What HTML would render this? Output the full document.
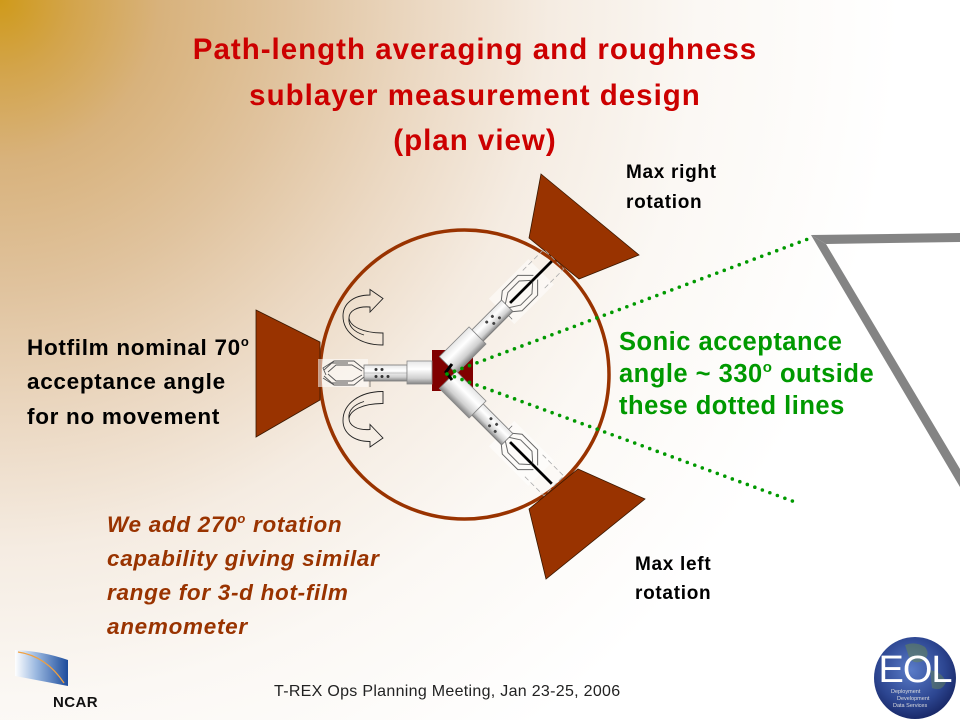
<!DOCTYPE html>
<html>
<head>
<meta charset="utf-8">
<style>
  html,body{margin:0;padding:0;}
  body{width:960px;height:720px;overflow:hidden;
    background: radial-gradient(circle at 0px 0px, #cf9a1a 0px, #d3a44a 70px, #d8b27c 160px, #e0c39e 290px, #ebd8c2 420px, #f5ece2 550px, #fbf8f4 700px, #ffffff 900px);
  }
  svg{display:block;}
  text{font-family:"Liberation Sans", Arial, sans-serif;}
</style>
</head>
<body>
<svg width="960" height="720" viewBox="0 0 960 720" xmlns="http://www.w3.org/2000/svg">
  <defs>
    <linearGradient id="cyl" x1="0" y1="0" x2="0" y2="1">
      <stop offset="0" stop-color="#e6e6e6"/>
      <stop offset="0.35" stop-color="#ffffff"/>
      <stop offset="0.75" stop-color="#d0d0d0"/>
      <stop offset="1" stop-color="#858585"/>
    </linearGradient>
    <linearGradient id="ncar" x1="0" y1="0" x2="1" y2="0">
      <stop offset="0" stop-color="#ffffff"/>
      <stop offset="0.4" stop-color="#9ab8e0"/>
      <stop offset="1" stop-color="#1d4c9c"/>
    </linearGradient>
    <radialGradient id="globe" cx="0.45" cy="0.4" r="0.6">
      <stop offset="0" stop-color="#5a7cc8"/>
      <stop offset="0.7" stop-color="#2c4590"/>
      <stop offset="1" stop-color="#1a2a6a"/>
    </radialGradient>
  </defs>

  <!-- Title -->
  <g font-weight="bold" font-size="29.5" fill="#cc0000" text-anchor="middle" letter-spacing="1">
    <text x="475" y="59">Path-length averaging and roughness</text>
    <text x="475" y="105">sublayer measurement design</text>
    <text x="475" y="150">(plan view)</text>
  </g>

  <!-- Gray outline shape on right -->
  <polygon points="811,235 960,233 960,242 826,244" fill="#848484"/>
  <polygon points="811,235 826,244 960,469 960,487" fill="#848484"/>

  <!-- Circle -->
  <circle cx="464.5" cy="374.5" r="144.5" fill="none" stroke="#993300" stroke-width="3.5"/>

  <!-- Trapezoids -->
  <g fill="#993300" stroke="#3a1800" stroke-width="0.8">
    <polygon points="256,310 320,342 320,400 256,437"/>
    <polygon points="541,174 639,255 579,279 529,238"/>
    <polygon points="578,469 645,499 546,579 529,509"/>
  </g>

  <!-- Curved arrows -->
  <path d="M383,333 C362,333 350,326 349,318 C349,311 357,306 370,307 L370,312 L383,298.5 L370,289.5 L370,295 C353,295 343,304 343,316 C343,333 360,345 383,345 Z M349,318 C348,326 354,332 364,335" fill="none" stroke="#222" stroke-width="0.9"/>
  <g transform="matrix(1,0,0,-1,0,736.5)">
    <path d="M383,333 C362,333 350,326 349,318 C349,311 357,306 370,307 L370,312 L383,298.5 L370,289.5 L370,295 C353,295 343,304 343,316 C343,333 360,345 383,345 Z M349,318 C348,326 354,332 364,335" fill="none" stroke="#222" stroke-width="0.9"/>
  </g>

  <!-- Center square -->
  <rect x="432" y="350" width="41" height="41" fill="#800000"/>

  <!-- Left probe -->
  <g transform="translate(432,373) scale(-1,1)">
    <rect x="64" y="-14" width="50" height="28" fill="#fff" opacity="0.55"/>
    <path d="M68,-4 L78,-12 L98,-12 L108,-3 M68,4 L78,12 L98,12 L108,3 M70,-2 L80,-8 L96,-8 L104,-1 M70,2 L80,8 L96,8 L104,1 M98,-12 L109,-5 L106,2 M98,12 L109,5 M84,-10 L100,-10 M84,10 L100,10" fill="none" stroke="#555" stroke-width="0.9"/>
    <rect x="25" y="-8" width="43" height="16" fill="url(#cyl)" stroke="#777" stroke-width="0.8"/>
    <line x1="25" y1="0" x2="68" y2="0" stroke="#999" stroke-width="0.6"/>
    <circle cx="50" cy="-3.5" r="1.5" fill="#333"/><circle cx="56" cy="-3.5" r="1.5" fill="#333"/>
    <circle cx="44" cy="3.5" r="1.5" fill="#333"/><circle cx="50" cy="3.5" r="1.5" fill="#333"/><circle cx="56" cy="3.5" r="1.5" fill="#333"/>
    <line x1="62" y1="8" x2="62" y2="14" stroke="#555" stroke-width="0.7"/>
    <rect x="0" y="-12" width="25" height="23" fill="url(#cyl)" stroke="#888" stroke-width="0.8"/>
  </g>

  <!-- Upper-right probe -->
  <g transform="translate(445,368) rotate(-45)">
    <rect x="80" y="-18" width="56" height="36" fill="#fff" opacity="0.5"/>
    <path d="M124,-14 L154,-14 L154,14 L124,14" fill="none" stroke="#aaa" stroke-width="0.8" stroke-dasharray="5 3"/>
    <line x1="92" y1="0" x2="151" y2="0" stroke="#000" stroke-width="2.8"/>
    <path d="M84,-5 L95,-14 L117,-14 L128,-3 M84,5 L95,14 L117,14 L128,3 M87,-2 L98,-9 L114,-9 L123,-1 M87,2 L98,9 L114,9 L123,1" fill="none" stroke="#666" stroke-width="1"/>
    <rect x="46" y="-8" width="42" height="16" fill="url(#cyl)" stroke="#777" stroke-width="0.8"/>
    <circle cx="62" cy="-3" r="1.5" fill="#444"/><circle cx="70" cy="-3" r="1.5" fill="#444"/><circle cx="66" cy="3" r="1.5" fill="#444"/><circle cx="74" cy="3" r="1.5" fill="#444"/>
    <line x1="82" y1="8" x2="82" y2="13" stroke="#666" stroke-width="0.7"/>
    <rect x="4" y="-12" width="42" height="24" fill="url(#cyl)" stroke="#888" stroke-width="0.8"/>
  </g>

  <!-- Lower-right probe -->
  <g transform="translate(445,377) rotate(45)">
    <rect x="80" y="-18" width="56" height="36" fill="#fff" opacity="0.5"/>
    <path d="M124,-14 L154,-14 L154,14 L124,14" fill="none" stroke="#aaa" stroke-width="0.8" stroke-dasharray="5 3"/>
    <line x1="92" y1="0" x2="151" y2="0" stroke="#000" stroke-width="2.8"/>
    <path d="M84,-5 L95,-14 L117,-14 L128,-3 M84,5 L95,14 L117,14 L128,3 M87,-2 L98,-9 L114,-9 L123,-1 M87,2 L98,9 L114,9 L123,1" fill="none" stroke="#666" stroke-width="1"/>
    <rect x="46" y="-8" width="42" height="16" fill="url(#cyl)" stroke="#777" stroke-width="0.8"/>
    <circle cx="62" cy="-3" r="1.5" fill="#444"/><circle cx="70" cy="-3" r="1.5" fill="#444"/><circle cx="66" cy="3" r="1.5" fill="#444"/><circle cx="74" cy="3" r="1.5" fill="#444"/>
    <line x1="82" y1="-8" x2="82" y2="-13" stroke="#666" stroke-width="0.7"/>
    <rect x="4" y="-12" width="42" height="24" fill="url(#cyl)" stroke="#888" stroke-width="0.8"/>
  </g>

  <!-- black joint -->
  <path d="M452,364 L446,372 L452,380" fill="none" stroke="#000" stroke-width="3"/>

  <!-- Green dotted lines -->
  <g stroke="#009900" stroke-width="3.6" stroke-linecap="round" stroke-dasharray="0 8" fill="none">
    <line x1="447" y1="374" x2="808" y2="239"/>
    <line x1="447" y1="374" x2="795" y2="502"/>
  </g>

  <!-- Labels -->
  <g font-weight="bold" font-size="19" fill="#000" letter-spacing="0.7">
    <text x="626" y="178">Max right</text>
    <text x="626" y="208">rotation</text>
    <text x="635" y="570">Max left</text>
    <text x="635" y="599">rotation</text>
  </g>

  <g font-weight="bold" font-size="22.5" fill="#000" letter-spacing="0.7">
    <text x="27" y="355">Hotfilm nominal 70<tspan font-size="13" dy="-9">o</tspan></text>
    <text x="27" y="389">acceptance angle</text>
    <text x="27" y="424">for no movement</text>
  </g>

  <g font-weight="bold" font-size="25.5" fill="#009900" letter-spacing="0.5">
    <text x="619" y="350">Sonic acceptance</text>
    <text x="619" y="382">angle ~ 330<tspan font-size="15" dy="-10">o</tspan><tspan dy="10"> outside</tspan></text>
    <text x="619" y="414">these dotted lines</text>
  </g>

  <g font-weight="bold" font-style="italic" font-size="22.5" fill="#993300" letter-spacing="0.7">
    <text x="107" y="532">We add 270<tspan font-size="13" dy="-9">o</tspan><tspan dy="9"> rotation</tspan></text>
    <text x="107" y="566">capability giving similar</text>
    <text x="107" y="600">range for 3-d hot-film</text>
    <text x="107" y="634">anemometer</text>
  </g>

  <!-- Footer -->
  <text x="274" y="696" font-size="16" fill="#222" letter-spacing="0.3">T-REX Ops Planning Meeting, Jan 23-25, 2006</text>

  <!-- NCAR logo -->
  <path d="M15,650 Q42,651 68,660 L68,686 L15,676 Z" fill="url(#ncar)"/>
  <path d="M18,652 Q46,656 64,683" fill="none" stroke="#f0a040" stroke-width="1.3"/>
  <text x="53" y="707" font-size="15" font-weight="bold" fill="#111" letter-spacing="0.4">NCAR</text>

  <!-- EOL logo -->
  <circle cx="915" cy="678" r="41" fill="url(#globe)"/>
  <path d="M905,645 q10,-4 20,2 q6,8 -2,14 q-10,4 -14,-4 z" fill="#6a8a50" opacity="0.5"/>
  <path d="M930,670 q12,2 16,12 q-4,10 -14,6 z" fill="#6a8a50" opacity="0.45"/>
  <text x="915" y="682" font-size="38" fill="#ffffff" text-anchor="middle" letter-spacing="-1">EOL</text>
  <g font-size="5.5" fill="#ddd" font-family="Liberation Serif, serif">
    <text x="891" y="693">Deployment</text>
    <text x="897" y="700">Development</text>
    <text x="893" y="707">Data Services</text>
  </g>
</svg>
</body>
</html>
